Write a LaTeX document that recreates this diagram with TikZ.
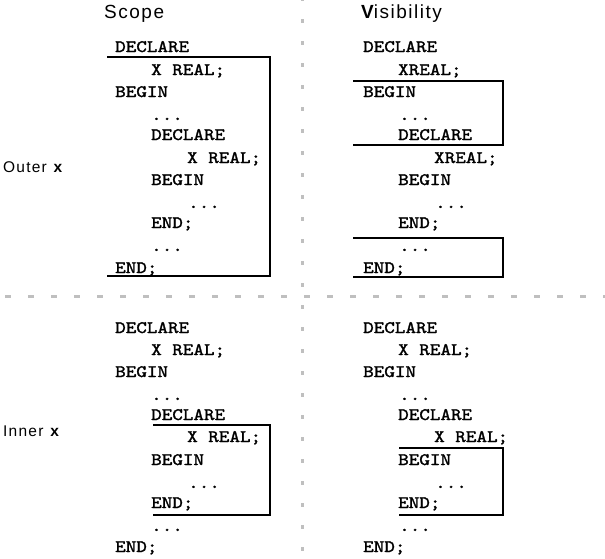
\documentclass[tikz,border=0pt]{standalone}
\usepackage{fontspec}
\newfontfamily\codefont{lmmono10-regular}[Extension=.otf,FakeStretch=1.15,FakeBold=1.6]
\newfontfamily\labfont[LetterSpace=8]{Liberation Sans}
\begin{document}
\begin{tikzpicture}[x=1pt,y=-1pt,
  code/.style={anchor=base west,inner sep=0pt,font=\codefont\fontsize{17.5}{17.5}\selectfont},
  ttl/.style={anchor=base west,inner sep=0pt,font=\labfont\fontsize{19}{19}\selectfont},
  side/.style={anchor=base west,inner sep=0pt,font=\labfont\fontsize{15.5}{15.5}\selectfont},
  bracket/.style={draw=black,line width=1.4pt},
  sep/.style={draw=gray!50,line width=3pt}]
\useasboundingbox (0,0) rectangle (605,558);
% separators
\draw[sep,dash pattern=on 4pt off 18pt] (302,-3) -- (302,558);
\draw[sep,dash pattern=on 6pt off 17pt] (5,296) -- (605,296);
% titles
\node[ttl] (tscope) at (104,18) {Scope};
\node[ttl] (tvis) at (361,18) {{\bfseries V}isibility};
\node[side] (outer) at (3,172) {Outer \textbf{x}};
\node[side] (inner) at (3,436) {Inner \textbf{x}};
% top-left
\node[code] (a1) at (115,52) {DECLARE};
\node[code] (a2) at (151,75) {X REAL;};
\node[code] (a3) at (115,97) {BEGIN};
\node[code] (a4) at (151,120) {...};
\node[code] (a5) at (151,140) {DECLARE};
\node[code] (a6) at (187,163) {X REAL;};
\node[code] (a7) at (151,185) {BEGIN};
\node[code] (a8) at (188,208) {...};
\node[code] (a9) at (151,228) {END;};
\node[code] (a10) at (151,251) {...};
\node[code] (a11) at (115,273) {END;};
\draw[bracket] (107,57) -- (270,57) -- (270,276) -- (107,276);
% top-right
\node[code] (b1) at (363,52) {DECLARE};
\node[code] (b2) at (398,75) {XREAL;};
\node[code] (b3) at (363,97) {BEGIN};
\node[code] (b4) at (399,120) {...};
\node[code] (b5) at (398,140) {DECLARE};
\node[code] (b6) at (434,163) {XREAL;};
\node[code] (b7) at (398,185) {BEGIN};
\node[code] (b8) at (435,208) {...};
\node[code] (b9) at (398,228) {END;};
\node[code] (b10) at (399,251) {...};
\node[code] (b11) at (363,273) {END;};
\draw[bracket] (353,81) -- (503,81) -- (503,145) -- (353,145);
\draw[bracket] (353,238) -- (503,238) -- (503,277) -- (353,277);
% bottom-left
\node[code] (c1) at (115,333) {DECLARE};
\node[code] (c2) at (151,355) {X REAL;};
\node[code] (c3) at (115,377) {BEGIN};
\node[code] (c4) at (151,400) {...};
\node[code] (c5) at (151,420) {DECLARE};
\node[code] (c6) at (187,442) {X REAL;};
\node[code] (c7) at (151,465) {BEGIN};
\node[code] (c8) at (188,488) {...};
\node[code] (c9) at (151,508) {END;};
\node[code] (c10) at (151,531) {...};
\node[code] (c11) at (115,552) {END;};
\draw[bracket] (153,425) -- (270,425) -- (270,515) -- (153,515);
% bottom-right
\node[code] (d1) at (363,333) {DECLARE};
\node[code] (d2) at (398,355) {X REAL;};
\node[code] (d3) at (363,377) {BEGIN};
\node[code] (d4) at (399,400) {...};
\node[code] (d5) at (398,420) {DECLARE};
\node[code] (d6) at (434,442) {X REAL;};
\node[code] (d7) at (398,465) {BEGIN};
\node[code] (d8) at (435,488) {...};
\node[code] (d9) at (398,508) {END;};
\node[code] (d10) at (399,531) {...};
\node[code] (d11) at (363,552) {END;};
\draw[bracket] (399,448) -- (503,448) -- (503,515) -- (399,515);
\end{tikzpicture}
\end{document}
